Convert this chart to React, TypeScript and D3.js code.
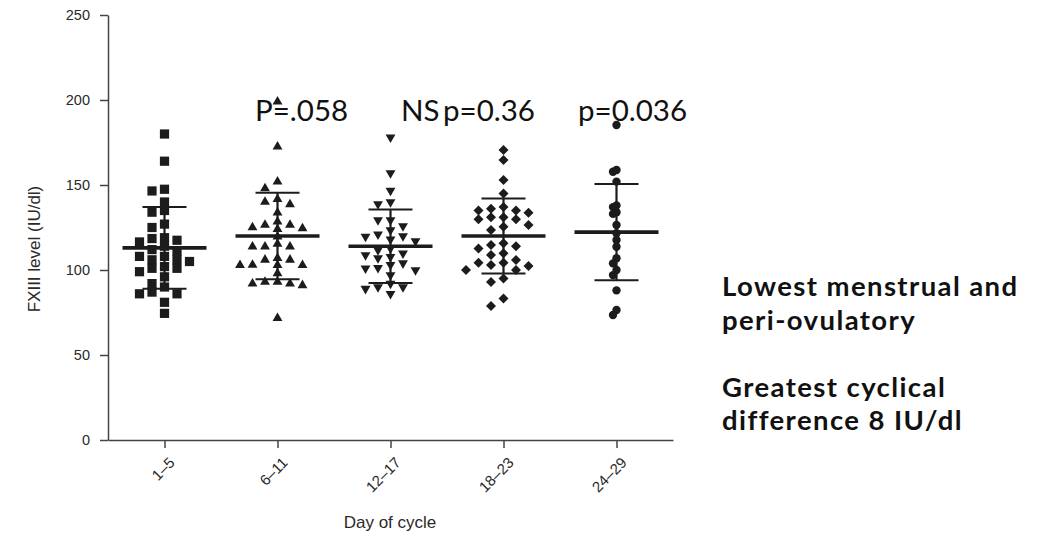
import React, { useEffect, useRef } from "react";
import * as d3 from "d3";

const categories = ["1–5", "6–11", "12–17", "18–23", "24–29"];
const yTicks = [0, 50, 100, 150, 200, 250];

const group1 = [180, 164, 147.5, 146.5, 140, 135, 134, 127, 125, 119, 118.5, 117.5, 116.5, 114, 112, 111,
  108, 108, 106, 106, 105, 102, 101, 101, 99, 96, 92, 90, 87, 86, 86, 81, 74.5];
const group2 = [199, 172.5, 152, 148, 140, 138.6, 141.6, 133.7, 128.4, 126.5, 124.5, 124, 125, 126.5, 119.6,
  113.7, 113.7, 113.7, 115.3, 106, 106, 107, 103, 102.8, 102.8, 102.8, 98, 93, 91, 92, 92, 93, 71.6];
const group3 = [178, 157, 146.7, 140, 138.8, 129.4, 129.4, 125.9, 123.5, 120, 118, 121, 117, 119.6,
  109.8, 107.8, 112.7, 108.8, 111.8, 103, 101, 107, 104, 100, 101.3, 97, 90, 89, 92, 90, 86];
const group4 = [170.6, 164.7, 153, 145, 137, 135, 133.7, 135, 136, 131, 129.8, 129.8, 131, 125.5, 126.5, 123.5,
  115.7, 112.7, 114.7, 114, 108.8, 109.8, 104.3, 103, 105.9, 102.4, 104.3, 100, 100, 95, 93, 83.3, 78.8];
const group5 = [185.3, 158.8, 157.8, 152, 138, 137, 134, 133, 126.5, 121.6, 117.6, 113.7, 106.9, 103.9, 100, 97, 88, 76.5, 73.5];

const groupValues = [group1, group2, group3, group4, group5];
const means = [113, 120, 114, 120, 122.3];
const sds = [24, 25.5, 21.6, 22, 28.3];

const pLabels = ["P=.058", "NS", "p=0.36", "p=0.036"];
const noteLines = ["Lowest menstrual and", "peri-ovulatory", "", "Greatest cyclical", "difference 8 IU/dl"];

const W = 1057;
const H = 537;

export default function App() {
  const ref = useRef<SVGSVGElement>(null);

  useEffect(() => {
    const svg = d3.select(ref.current);
    svg.selectAll("*").remove();

    const y = d3.scaleLinear().domain([0, 250]).range([440, 15]);
    const x = d3.scalePoint<string>().domain(categories).range([108, 673]).padding(0.5);

    const axisColor = "#444";
    const labelFont = "'Liberation Sans', Arial, sans-serif";

    // Y axis
    const gy = svg.append("g").attr("transform", "translate(108,0)")
      .call(d3.axisLeft(y).tickValues(yTicks).tickSize(8).tickSizeOuter(0).tickPadding(10));
    gy.attr("font-size", 14.5).attr("font-family", labelFont);
    gy.select(".domain").attr("stroke", axisColor).attr("stroke-width", 1.5);
    gy.selectAll(".tick line").attr("stroke", axisColor).attr("stroke-width", 1.5);
    gy.selectAll(".tick text").attr("font-size", 14.5).attr("fill", "#2a2a2a");

    // X axis
    const gx = svg.append("g").attr("transform", "translate(0,440)")
      .call(d3.axisBottom(x).tickSize(8).tickSizeOuter(0));
    gx.attr("font-size", 15).attr("font-family", labelFont);
    gx.select(".domain").attr("stroke", axisColor).attr("stroke-width", 1.5);
    gx.selectAll(".tick line").attr("stroke", axisColor).attr("stroke-width", 1.5);
    gx.selectAll(".tick text")
      .attr("font-size", 15).attr("fill", "#2a2a2a")
      .attr("text-anchor", "end")
      .attr("x", 0).attr("y", 0).attr("dy", "0.35em")
      .attr("transform", "translate(7,20) rotate(-45)");

    // Axis titles
    svg.append("text").attr("x", 390).attr("y", 528).attr("text-anchor", "middle")
      .attr("font-size", 17).attr("font-family", labelFont).attr("fill", "#2a2a2a").text("Day of cycle");
    svg.append("text").attr("transform", "translate(40,249) rotate(-90)").attr("text-anchor", "middle")
      .attr("font-size", 17).attr("font-family", labelFont).attr("fill", "#2a2a2a").text("FXIII level (IU/dl)");

    const ink = "#1c1c1c";
    const tri = d3.symbol().type(d3.symbolTriangle).size(42)();
    const shapes = [
      { path: d3.symbol().type(d3.symbolSquare).size(85)(), rot: 0, step: 12.5, w: 10, h: 8 },
      { path: tri, rot: 0, step: 12.5, w: 10, h: 7 },
      { path: tri, rot: 180, step: 12.5, w: 10, h: 7 },
      { path: d3.symbol().type(d3.symbolSquare).size(50)(), rot: 45, step: 12.5, w: 10, h: 8 },
      { path: d3.symbol().type(d3.symbolCircle).size(55)(), rot: 0, step: 3.5, w: 3, h: 6 },
    ];

    groupValues.forEach((vals, gi) => {
      const cx = x(categories[gi]) as number;
      const sh = shapes[gi];
      const placed: { x: number; y: number }[] = [];
      const sorted = [...vals].sort((a, b) => b - a);
      sorted.forEach((v) => {
        const py = y(v);
        let k = 0;
        let px = cx;
        while (true) {
          const off = k === 0 ? 0 : (k % 2 === 1 ? -1 : 1) * Math.ceil(k / 2) * sh.step;
          px = cx + off;
          const hit = placed.some((p) => Math.abs(p.x - px) < sh.w && Math.abs(p.y - py) < sh.h);
          if (!hit || k > 10) break;
          k++;
        }
        placed.push({ x: px, y: py });
      });
      svg.append("g").selectAll("path").data(placed).join("path")
        .attr("d", sh.path as string)
        .attr("fill", ink)
        .attr("transform", (p) => `translate(${p.x},${p.y}) rotate(${sh.rot})`);

      const m = means[gi];
      const s = sds[gi];
      const g = svg.append("g").attr("stroke", ink).attr("fill", "none");
      g.append("line").attr("x1", cx).attr("x2", cx).attr("y1", y(m - s)).attr("y2", y(m + s)).attr("stroke-width", 2.2);
      g.append("line").attr("x1", cx - 42).attr("x2", cx + 42).attr("y1", y(m)).attr("y2", y(m)).attr("stroke-width", 3.6);
      [m - s, m + s].forEach((v) => {
        g.append("line").attr("x1", cx - 22).attr("x2", cx + 22).attr("y1", y(v)).attr("y2", y(v)).attr("stroke-width", 2);
      });
    });

    // p-value annotations
    const pX = [255, 401, 443, 578];
    const noteFont = "Lato, 'Open Sans', sans-serif";
    pLabels.forEach((t, i) => {
      svg.append("text").attr("x", pX[i]).attr("y", 121).attr("font-size", 29.5)
        .attr("font-family", noteFont).attr("fill", "#111").text(t);
    });

    noteLines.forEach((t, i) => {
      if (!t) return;
      svg.append("text").attr("x", 722).attr("y", 296 + i * 33.5).attr("font-size", 27.5)
        .attr("letter-spacing", 1.4)
        .attr("font-weight", "bold").attr("font-family", noteFont).attr("fill", "#111").text(t);
    });
  }, []);

  return (
    <svg ref={ref} width={W} height={H} style={{ position: "absolute", left: 0, top: 0, background: "#fff" }} />
  );
}
